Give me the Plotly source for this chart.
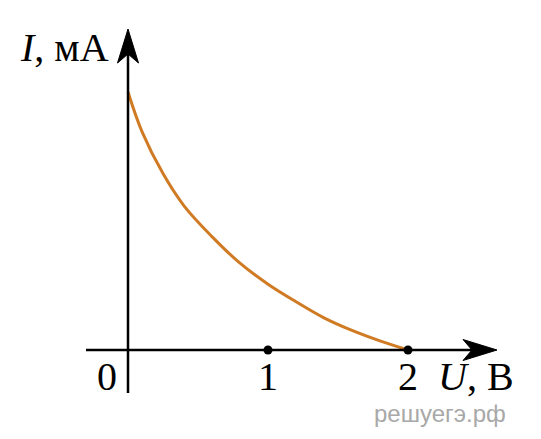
import plotly.graph_objects as go

# Data
U_vals = [0, 0.1, 0.25, 0.4, 0.6, 0.8, 1.0, 1.2, 1.4, 1.6, 1.8, 2.0]
I_vals = [1.843, 1.56, 1.26, 1.03, 0.81, 0.62, 0.47, 0.345, 0.23, 0.14, 0.065, 0.0]
tick_vals = [1, 2]
tick_labels = ["1", "2"]

W, H = 541, 439
PAD = 8  # default page body margin
OX, OY, S = 128, 350, 140  # pixel origin and scale


def dx(px):
    return (px - OX) / S


def dy(py):
    return (OY - py) / S


fig = go.Figure()

# curve
fig.add_trace(go.Scatter(x=U_vals, y=I_vals, mode="lines",
                         line=dict(color="#D07B24", width=3, shape="spline"),
                         hoverinfo="skip", showlegend=False))
# tick dots
fig.add_trace(go.Scatter(x=tick_vals, y=[0] * len(tick_vals), mode="markers",
                         marker=dict(color="black", size=9), showlegend=False,
                         hoverinfo="skip"))

shapes = []
# x axis line
shapes.append(dict(type="line", x0=dx(86), y0=0, x1=dx(480), y1=0,
                   line=dict(color="black", width=2.5)))
# y axis line
shapes.append(dict(type="line", x0=0, y0=dy(393), x1=0, y1=dy(45),
                   line=dict(color="black", width=2.5)))


def path(pts):
    s = "M " + " L ".join(f"{dx(a):.4f},{dy(b):.4f}" for a, b in pts) + " Z"
    return s

# arrowheads
shapes.append(dict(type="path", path=path([(497, 350), (463, 339.5), (472, 350), (463, 360.5)]),
                   fillcolor="black", line=dict(color="black", width=1)))
shapes.append(dict(type="path", path=path([(128, 29), (117.5, 63), (128, 54), (138.5, 63)]),
                   fillcolor="black", line=dict(color="black", width=1)))

fig.update_layout(shapes=shapes)

serif = "Liberation Serif"
FS = 40
ann = []
ann.append(dict(x=dx(107), y=dy(376), text="0", showarrow=False,
                font=dict(family=serif, size=FS, color="black")))
for v, t in zip(tick_vals, tick_labels):
    ann.append(dict(x=v, y=dy(376), text=t, showarrow=False,
                    font=dict(family=serif, size=FS, color="black")))
ann.append(dict(x=dx(476), y=dy(376), text="<i>U</i>, В", showarrow=False,
                font=dict(family=serif, size=FS, color="black")))
ann.append(dict(x=dx(64), y=dy(47), text="<i>I</i>, мА", showarrow=False,
                font=dict(family=serif, size=FS, color="black")))
ann.append(dict(x=dx(440), y=dy(413), text="решуегэ.рф", showarrow=False,
                font=dict(family="Liberation Sans", size=24, color="#A8A8A8")))
fig.update_layout(annotations=ann)

fig.update_layout(
    width=W - PAD, height=H - PAD,
    margin=dict(l=0, r=0, t=0, b=0),
    paper_bgcolor="white", plot_bgcolor="white",
    xaxis=dict(range=[dx(PAD), dx(W)], visible=False, fixedrange=True),
    yaxis=dict(range=[dy(H), dy(PAD)], visible=False, fixedrange=True),
    showlegend=False,
)

fig.write_html("out.html")
